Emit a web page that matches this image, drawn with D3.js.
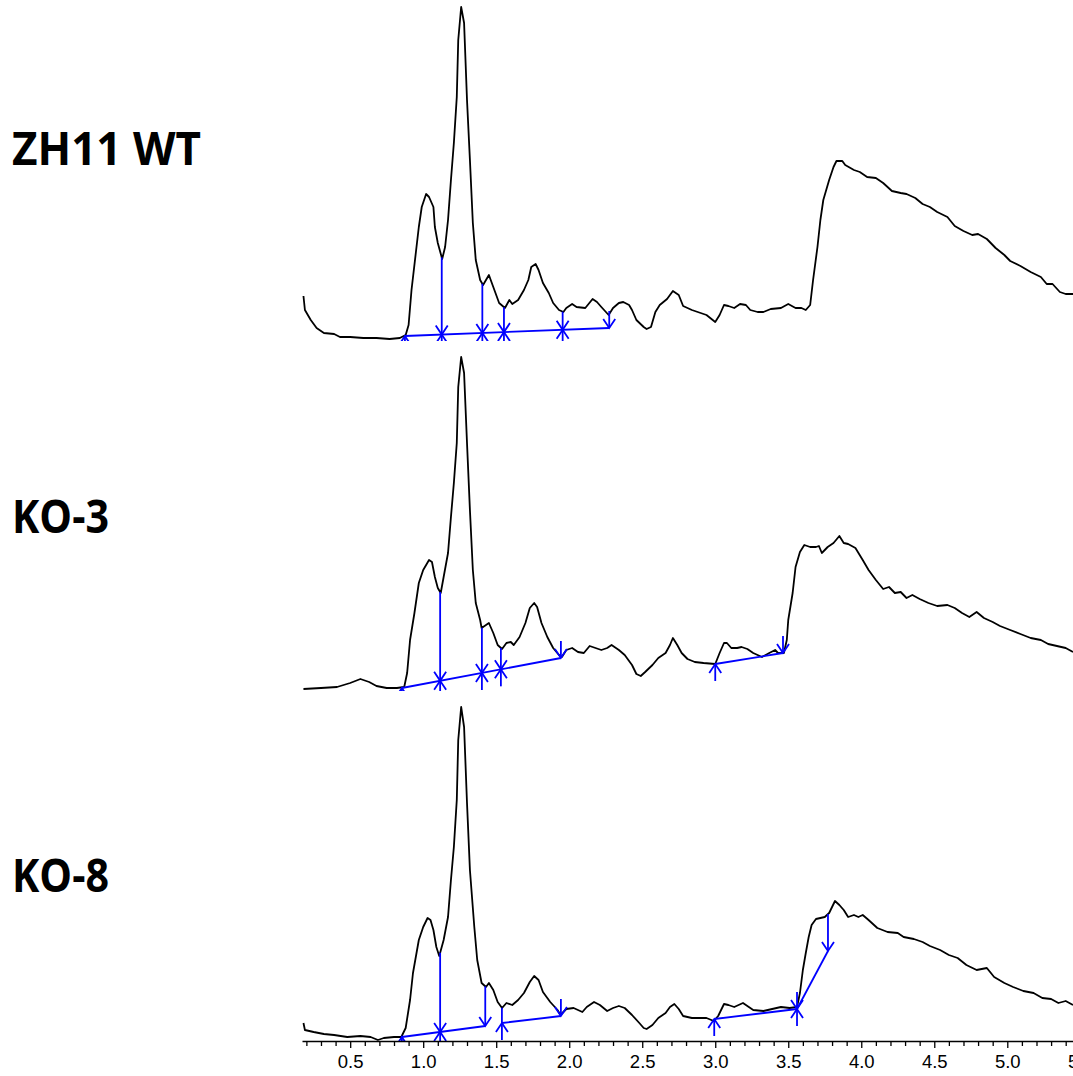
<!DOCTYPE html>
<html>
<head>
<meta charset="utf-8">
<title>rice chromatograms</title>
<script src="https://cdn.jsdelivr.net/npm/d3@7/dist/d3.min.js"></script>
<style>
    body {margin: 0; background: #fff;}
    .trace {fill: none; stroke: #000; stroke-width: 1.8; stroke-linejoin: round;}
    .integ {fill: none; stroke: #0000ff; stroke-width: 1.8;}
    .label {font-family: "Open Sans", "Noto Sans", sans-serif; font-weight: 700; font-size: 46px; fill: #000;}
    .axis path, .axis line {stroke: #000; stroke-width: 1.3;}
    .axis text {font-family: "Liberation Sans", Arial, sans-serif; font-size: 18.5px; fill: #000;}
</style>
</head>
<body>
<div id="chart"></div>
<script>
// sample names, top to bottom
const samples = ['ZH11 WT', 'KO-3', 'KO-8'];

// [retention time (min), signal]
const wtTrace = [[0.18,45],[0.19,31],[0.23,21],[0.27,13],[0.32,8],[0.39,7],[0.43,4],[0.50,4],[0.59,3],[0.68,3],[0.77,2],[0.84,3],[0.88,6],[0.90,16],[0.92,51],[0.97,114],[0.99,134],[1.02,147],[1.04,144],[1.07,134],[1.08,114],[1.10,98],[1.13,82],[1.15,94],[1.17,121],[1.19,161],[1.21,198],[1.23,244],[1.24,301],[1.26,334],[1.28,318],[1.30,241],[1.32,181],[1.34,118],[1.36,81],[1.39,61],[1.41,56],[1.43,61],[1.45,66],[1.48,54],[1.52,38],[1.56,33],[1.59,41],[1.61,37],[1.65,41],[1.69,51],[1.72,61],[1.74,74],[1.77,77],[1.79,71],[1.82,58],[1.86,48],[1.89,38],[1.93,31],[1.96,29],[1.98,33],[2.02,37],[2.05,34],[2.11,33],[2.16,42],[2.19,39],[2.22,34],[2.27,26],[2.30,33],[2.34,38],[2.37,39],[2.41,36],[2.43,31],[2.46,21],[2.51,14],[2.53,12],[2.56,14],[2.59,29],[2.62,36],[2.67,42],[2.71,50],[2.75,46],[2.78,35],[2.84,31],[2.90,28],[2.94,26],[3.00,19],[3.03,26],[3.06,36],[3.09,35],[3.13,33],[3.17,37],[3.21,36],[3.24,31],[3.29,29],[3.33,29],[3.38,32],[3.45,33],[3.50,37],[3.55,33],[3.59,33],[3.62,31],[3.65,36],[3.67,61],[3.70,94],[3.72,121],[3.74,141],[3.78,161],[3.81,174],[3.83,180],[3.87,180],[3.89,176],[3.95,171],[3.99,169],[4.04,164],[4.10,163],[4.15,158],[4.21,150],[4.27,148],[4.31,147],[4.37,143],[4.42,137],[4.47,134],[4.52,129],[4.59,124],[4.64,115],[4.70,110],[4.76,106],[4.80,107],[4.86,102],[4.92,93],[4.98,86],[5.02,80],[5.09,75],[5.16,69],[5.23,64],[5.27,57],[5.31,57],[5.36,49],[5.40,47],[5.45,47]];

const ko3Trace = [[0.18,2],[0.30,3],[0.41,4],[0.50,8],[0.57,12],[0.63,9],[0.68,5],[0.75,3],[0.82,3],[0.87,4],[0.89,18],[0.91,51],[0.94,78],[0.97,108],[1.00,121],[1.04,131],[1.06,129],[1.08,114],[1.10,103],[1.12,98],[1.14,114],[1.17,138],[1.19,174],[1.21,208],[1.23,248],[1.24,304],[1.26,334],[1.28,318],[1.30,248],[1.32,181],[1.34,121],[1.36,88],[1.39,71],[1.40,63],[1.43,66],[1.45,68],[1.48,58],[1.51,46],[1.54,42],[1.57,48],[1.60,49],[1.62,46],[1.66,54],[1.70,68],[1.73,83],[1.76,88],[1.78,84],[1.81,68],[1.85,54],[1.89,43],[1.93,36],[1.95,34],[1.98,41],[2.02,43],[2.06,39],[2.10,38],[2.14,45],[2.18,43],[2.22,41],[2.26,43],[2.29,46],[2.34,41],[2.38,36],[2.43,26],[2.46,17],[2.49,15],[2.52,19],[2.57,26],[2.61,33],[2.66,38],[2.69,46],[2.71,53],[2.74,46],[2.77,38],[2.81,32],[2.86,29],[2.92,28],[3.00,27],[3.03,38],[3.06,48],[3.08,48],[3.11,43],[3.15,43],[3.18,44],[3.22,42],[3.26,38],[3.32,34],[3.37,38],[3.41,41],[3.43,38],[3.47,38],[3.49,51],[3.50,71],[3.53,98],[3.55,124],[3.58,139],[3.61,146],[3.65,144],[3.69,144],[3.71,145],[3.73,138],[3.77,144],[3.81,148],[3.85,155],[3.88,148],[3.91,147],[3.96,143],[4.01,131],[4.05,121],[4.10,111],[4.15,102],[4.19,104],[4.23,98],[4.27,99],[4.31,93],[4.35,96],[4.40,92],[4.46,88],[4.52,85],[4.59,86],[4.64,83],[4.69,78],[4.74,74],[4.79,79],[4.84,73],[4.90,69],[4.95,65],[5.02,61],[5.09,57],[5.16,53],[5.23,51],[5.28,47],[5.34,45],[5.40,43],[5.45,39]];

const ko8Trace = [[0.18,18],[0.19,11],[0.25,9],[0.32,7],[0.39,6],[0.48,4],[0.57,5],[0.64,4],[0.69,1],[0.73,3],[0.80,4],[0.85,4],[0.88,13],[0.91,41],[0.93,68],[0.97,101],[1.00,114],[1.03,123],[1.05,121],[1.07,111],[1.09,94],[1.11,85],[1.14,101],[1.17,124],[1.19,161],[1.21,194],[1.23,241],[1.24,301],[1.26,334],[1.28,314],[1.30,238],[1.32,171],[1.35,114],[1.37,81],[1.40,58],[1.43,54],[1.45,58],[1.48,51],[1.51,39],[1.54,33],[1.57,38],[1.61,36],[1.65,41],[1.69,48],[1.73,59],[1.76,65],[1.79,61],[1.82,49],[1.87,39],[1.92,31],[1.94,26],[1.98,32],[2.03,33],[2.09,29],[2.12,34],[2.17,39],[2.21,36],[2.26,30],[2.30,33],[2.34,35],[2.38,33],[2.43,26],[2.48,18],[2.51,13],[2.53,12],[2.57,16],[2.61,23],[2.66,28],[2.69,34],[2.72,37],[2.75,32],[2.78,25],[2.84,23],[2.90,23],[2.94,23],[2.99,20],[3.02,25],[3.06,37],[3.09,36],[3.13,34],[3.19,38],[3.23,34],[3.26,31],[3.33,30],[3.39,32],[3.45,34],[3.51,33],[3.56,34],[3.58,48],[3.60,71],[3.62,88],[3.64,104],[3.66,116],[3.69,122],[3.72,123],[3.75,124],[3.78,128],[3.80,134],[3.82,140],[3.85,136],[3.88,131],[3.91,124],[3.95,126],[3.98,124],[4.01,126],[4.05,121],[4.11,113],[4.18,109],[4.25,108],[4.29,104],[4.36,102],[4.42,99],[4.47,95],[4.54,91],[4.60,86],[4.66,83],[4.72,76],[4.79,71],[4.86,73],[4.91,64],[4.98,58],[5.04,54],[5.11,50],[5.18,48],[5.24,43],[5.30,42],[5.35,38],[5.40,40],[5.45,36]];

// integration baselines: start/end as [time, signal], splits = drop-line times
const wtBaselines = [
    {start: [0.875, 5], end: [2.274, 13], splits: [1.127, 1.405, 1.553, 1.955]}
];
const ko3Baselines = [
    {start: [0.854, 3], end: [1.943, 33], splits: [1.116, 1.402, 1.532]},
    {start: [3.00, 27], end: [3.464, 38], splits: []}
];
const ko8Baselines = [
    {start: [0.854, 4], end: [1.425, 15], splits: [1.116]},
    {start: [1.539, 18], end: [1.943, 25], splits: []},
    {start: [2.993, 22], end: [3.56, 32], splits: []},
    {start: [3.56, 32], end: [3.772, 90], splits: []}
];

const majorTicks = [0.5, 1.0, 1.5, 2.0, 2.5, 3.0, 3.5, 4.0, 4.5, 5.0, 5.5];

const traces = [wtTrace, ko3Trace, ko8Trace];
const baselines = [wtBaselines, ko3Baselines, ko8Baselines];

const w = 1073;
const h = 1076;
const left = 302;
const axisY = 1041;
const panelBottoms = [341, 691, 1041];
const labelBaselines = [165, 533, 892];
const labelWidths = [189, 97, 97];

const svg = d3.select('#chart')
    .append('svg')
    .attr('width', w)
    .attr('height', h);

const x = d3.scaleLinear().domain([0.17, 5.45]).range([left, w]);

const line = (y) => d3.line()
    .x(d => x(d[0]))
    .y(d => y(d[1]));

function valueAt(trace, t) {
    const i = d3.bisector(d => d[0]).left(trace, t);
    if (i <= 0) return trace[0][1];
    if (i >= trace.length) return trace[trace.length - 1][1];
    const a = trace[i - 1], b = trace[i];
    return a[1] + (b[1] - a[1]) * (t - a[0]) / (b[0] - a[0]);
}

// arrow marks of the integration: tip sits on the baseline
function mark(g, px, yb, yTrace, isStart, isEnd) {
    const stem = 17, head = 9, hw = 6;
    let top = Math.min(yTrace, yb);
    if (isEnd) top = Math.min(yTrace, yb - stem);
    const bottom = isStart ? yb + stem : yb;
    g.append('line').attr('class', 'integ')
        .attr('x1', px).attr('x2', px).attr('y1', top).attr('y2', bottom);
    if (isEnd) {
        g.append('path').attr('class', 'integ')
            .attr('d', `M${px - hw},${yb - head}L${px},${yb}L${px + hw},${yb - head}`);
    }
    if (isStart) {
        g.append('path').attr('class', 'integ')
            .attr('d', `M${px - hw},${yb + head}L${px},${yb}L${px + hw},${yb + head}`);
    }
}

samples.forEach((name, i) => {
    const bottom = panelBottoms[i];
    const y = d3.scaleLinear().domain([0, 340]).range([bottom, bottom - 340]);
    const trace = traces[i];

    svg.append('clipPath').attr('id', 'clip' + i)
        .append('rect')
        .attr('x', left).attr('y', bottom - 345)
        .attr('width', w - left).attr('height', 345);

    const g = svg.append('g').attr('clip-path', `url(#clip${i})`);

    g.append('path')
        .datum(trace)
        .attr('class', 'trace')
        .attr('d', line(y));

    baselines[i].forEach(b => {
        const bl = d3.scaleLinear().domain([b.start[0], b.end[0]]).range([b.start[1], b.end[1]]);
        g.append('path')
            .datum([b.start, b.end])
            .attr('class', 'integ')
            .attr('d', line(y));
        mark(g, x(b.start[0]), y(b.start[1]), y(valueAt(trace, b.start[0])), true, false);
        mark(g, x(b.end[0]), y(b.end[1]), y(valueAt(trace, b.end[0])), false, true);
        b.splits.forEach(t => {
            mark(g, x(t), y(bl(t)), y(valueAt(trace, t)), true, true);
        });
    });

    svg.append('text')
        .attr('class', 'label')
        .attr('x', 12)
        .attr('y', labelBaselines[i])
        .attr('textLength', labelWidths[i])
        .attr('lengthAdjust', 'spacingAndGlyphs')
        .text(name);
});

const minorTicks = d3.range(2, 55).filter(d => d % 5 !== 0).map(d => d / 10);

svg.append('g')
    .attr('class', 'axis')
    .attr('transform', `translate(0,${axisY})`)
    .call(d3.axisBottom(x).tickValues(minorTicks).tickSize(5).tickSizeOuter(0).tickFormat(''));

svg.append('g')
    .attr('class', 'axis major')
    .attr('transform', `translate(0,${axisY})`)
    .call(d3.axisBottom(x).tickValues(majorTicks).tickSize(7).tickSizeOuter(0).tickPadding(7).tickFormat(d3.format('.1f')))
    .call(g => g.select('.domain').remove());
</script>
</body>
</html>
